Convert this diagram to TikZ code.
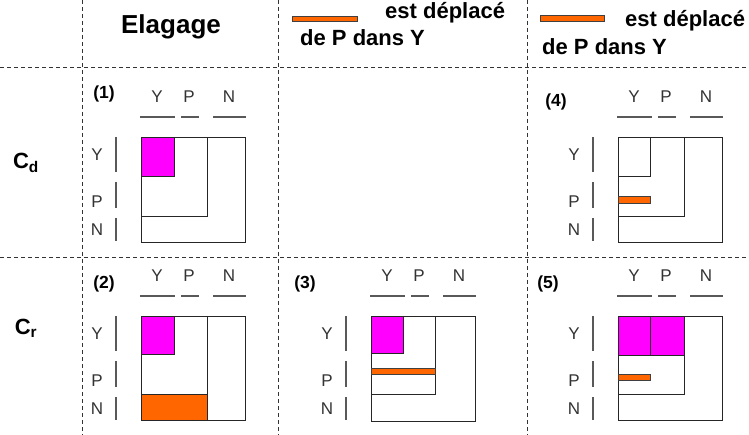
\documentclass[tikz,border=0pt]{standalone}
\usepackage{fontspec}
\setmainfont{Liberation Sans}
\begin{document}
\begin{tikzpicture}[x=1pt,y=-1pt]
\definecolor{mag}{HTML}{FF00FF}
\definecolor{ora}{HTML}{FF6600}
\tikzset{
  gridline/.style={dash pattern=on 4pt off 3pt, line width=0.8pt, draw=black!80},
  box/.style={draw=black!85, line width=0.9pt},
  tick/.style={draw=black!65, line width=1.1pt},
  lab/.style={font=\fontsize{17}{17}\selectfont, text=black!80, inner sep=0},
  num/.style={font=\fontsize{17.5}{17.5}\selectfont\bfseries, inner sep=0},
  head/.style={font=\fontsize{22}{22}\selectfont\bfseries, inner sep=0, anchor=base west},
  rowhead/.style={font=\fontsize{22}{22}\selectfont\bfseries, inner sep=0},
  movebar/.style={fill=ora, draw=black!75, line width=0.6pt},
  pics/axes/.style={code={
    \node[lab] (-cy) at (16,-40) {Y};
    \node[lab] (-cp) at (48,-40) {P};
    \node[lab] (-cn) at (88,-40) {N};
    \draw[tick] (-1,-20) -- (34,-20);
    \draw[tick] (40,-20) -- (58,-20);
    \draw[tick] (72,-20) -- (105,-20);
    \node[lab] (-ry) at (-44,18) {Y};
    \node[lab] (-rp) at (-44,65) {P};
    \node[lab] (-rn) at (-44,93) {N};
    \draw[tick] (-25,0) -- (-25,35);
    \draw[tick] (-25,45) -- (-25,71);
    \draw[tick] (-25,81) -- (-25,104);
  }}
}
\useasboundingbox[fill=white] (0,0) rectangle (749,435);

% table grid
\draw[gridline] (82,0) -- (82,435);
\draw[gridline] (278,0) -- (278,435);
\draw[gridline] (527,0) -- (527,435);
\draw[gridline] (0,67) -- (749,67);
\draw[gridline] (0,257) -- (749,257);

% column headers
\node[font=\fontsize{26}{26}\selectfont\bfseries, inner sep=0] (elag) at (171,27) {Elagage};
\filldraw[movebar] (292,16) rectangle (357,21);
\node[head] (h2a) at (385,19) {est déplacé};
\node[head] (h2b) at (300,46) {de P dans Y};
\filldraw[movebar] (540,15) rectangle (604,21);
\node[head] (h3a) at (625,27) {est déplacé};
\node[head] (h3b) at (542,55) {de P dans Y};

% row headers
\node[rowhead] (cd) at (26,163) {C\textsubscript{d}};
\node[rowhead] (cr) at (26,328) {C\textsubscript{r}};

% (1)
\pic (p1) at (141,137) {axes};
\node[num] (n1) at (104,94) {(1)};
\fill[mag] (141,137) rectangle (174,176);
\draw[box] (141,137) rectangle (174,176);
\draw[box] (141,137) rectangle (207,216);
\draw[box] (141,137) rectangle (245,242);

% (4)
\pic (p4) at (618,137) {axes};
\node[num] (n4) at (556,102) {(4)};
\draw[box] (618,137) rectangle (650,176);
\draw[box] (618,137) rectangle (684,216);
\draw[box] (618,137) rectangle (722,242);
\filldraw[movebar] (618,196) rectangle (650,203);

% (2)
\pic (p2) at (141,316) {axes};
\node[num] (n2) at (104,284) {(2)};
\fill[mag] (141,316) rectangle (174,354);
\draw[box] (141,316) rectangle (174,354);
\filldraw[fill=ora, draw=black!85, line width=0.9pt] (141,394) rectangle (207,420);
\draw[box] (207,316) -- (207,420);
\draw[box] (141,316) rectangle (245,420);

% (3)
\pic (p3) at (371,316) {axes};
\node[num] (n3) at (305,284) {(3)};
\fill[mag] (371,316) rectangle (403,353);
\draw[box] (371,316) rectangle (403,353);
\draw[box] (371,316) rectangle (435,394);
\draw[box] (371,316) rectangle (475,421);
\filldraw[movebar] (371,368) rectangle (435,374);

% (5)
\pic (p5) at (618,316) {axes};
\node[num] (n5) at (548,284) {(5)};
\fill[mag] (618,316) rectangle (684,355);
\draw[box] (618,316) rectangle (650,355);
\draw[box] (650,316) rectangle (684,355);
\draw[box] (618,316) rectangle (684,394);
\draw[box] (618,316) rectangle (722,420);
\filldraw[movebar] (618,374) rectangle (650,380);
\end{tikzpicture}
\end{document}
